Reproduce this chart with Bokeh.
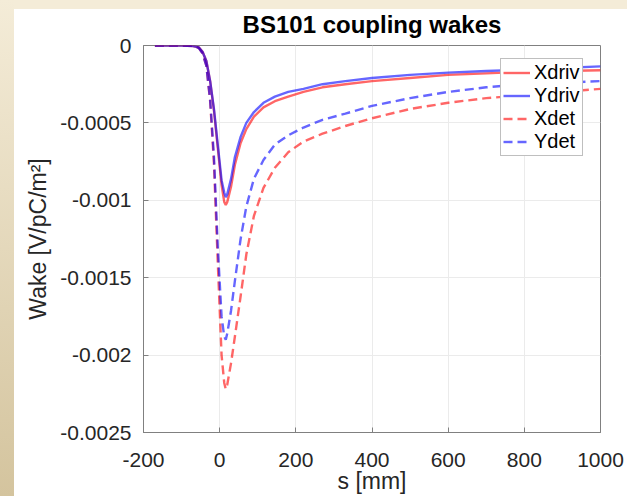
from bokeh.plotting import figure
from bokeh.models import Legend, LegendItem, FixedTicker, Range1d
from bokeh.layouts import column
from bokeh.embed import file_html
from bokeh.resources import INLINE

s = [-170, -100, -70, -55, -45, -35, -25, -15, -5, 5, 12, 16, 20, 30, 40, 55, 70, 90,
     115, 145, 180, 220, 270, 330, 400, 500, 600, 700, 800, 900, 1000]

xdriv = [0, 0, -0.000003, -0.000012, -0.00004, -0.0001, -0.00023, -0.00042, -0.00066,
         -0.0009, -0.00101, -0.00103, -0.00101, -0.00091, -0.00077, -0.00063, -0.00054,
         -0.00046, -0.0004, -0.00036, -0.00033, -0.0003, -0.00027, -0.00025, -0.00023,
         -0.00021, -0.00019, -0.00018, -0.00017, -0.000165, -0.00016]
ydriv = [0, 0, -0.000003, -0.000012, -0.00004, -0.0001, -0.00023, -0.00041, -0.00064,
         -0.00087, -0.00095, -0.00098, -0.00096, -0.00086, -0.00072, -0.00059, -0.0005,
         -0.00043, -0.00037, -0.00033, -0.0003, -0.00028, -0.00025, -0.00023, -0.00021,
         -0.00019, -0.000175, -0.000165, -0.000155, -0.000145, -0.000135]
xdet = [0, 0, -0.000003, -0.000015, -0.00005, -0.00013, -0.00036, -0.00076, -0.0014,
        -0.002, -0.00218, -0.00222, -0.00219, -0.00205, -0.00188, -0.00162, -0.00135,
        -0.0011, -0.00092, -0.00079, -0.00069, -0.00062, -0.00057, -0.00052, -0.00047,
        -0.00041, -0.00037, -0.00034, -0.00032, -0.0003, -0.00028]
ydet = [0, 0, -0.000003, -0.000015, -0.00005, -0.00013, -0.00035, -0.00072, -0.0013,
        -0.00175, -0.00188, -0.0019, -0.00186, -0.00171, -0.00152, -0.00125, -0.00104,
        -0.00086, -0.00074, -0.00064, -0.00058, -0.00053, -0.00048, -0.00044, -0.00039,
        -0.00034, -0.0003, -0.00027, -0.00025, -0.00024, -0.00023]

x_ticks = [-200, 0, 200, 400, 600, 800, 1000]
x_tick_labels = ["-200", "0", "200", "400", "600", "800", "1000"]
y_ticks = [0, -0.0005, -0.001, -0.0015, -0.002, -0.0025]
y_tick_labels = ["0", "-0.0005", "-0.001", "-0.0015", "-0.002", "-0.0025"]
title_text = "BS101 coupling wakes"

FONT = "Liberation Sans"

p = figure(width=613, height=496, output_backend="svg", toolbar_location=None,
           x_range=Range1d(-200, 1000), y_range=Range1d(-0.0025, 0),
           title=title_text)
p.min_border_left = 129
p.min_border_right = 27
p.min_border_top = 0
p.min_border_bottom = 63
p.background_fill_color = "white"
p.border_fill_alpha = 0
p.styles = {"background": "linear-gradient(to bottom, #f4ecd8 0px, #f4ecd8 9px, #ffffff 9px)"}
p.outline_line_color = "#808080"

p.title.align = "center"
p.title.text_font = FONT
p.title.text_font_size = "24px"
p.title.text_font_style = "bold"
p.title.text_color = "black"
p.title.standoff = 16
p.title.offset = 0

p.xaxis.ticker = FixedTicker(ticks=x_ticks)
p.yaxis.ticker = FixedTicker(ticks=y_ticks)
p.xaxis.major_label_overrides = {t: l for t, l in zip(x_ticks, x_tick_labels)}
p.yaxis.major_label_overrides = {t: l for t, l in zip(y_ticks, y_tick_labels)}
p.xaxis.axis_label = "s [mm]"
p.yaxis.axis_label = "Wake [V/pC/m²]"
for ax in (p.xaxis, p.yaxis):
    ax.axis_line_color = "#808080"
    ax.major_tick_line_color = "#808080"
    ax.major_tick_in = 5
    ax.major_tick_out = 0
    ax.minor_tick_line_color = None
    ax.major_label_text_font = FONT
    ax.major_label_text_font_size = "21px"
    ax.major_label_text_color = "#262626"
    ax.axis_label_text_font = FONT
    ax.axis_label_text_font_size = "23px"
    ax.axis_label_text_font_style = "normal"
    ax.axis_label_text_color = "#262626"
p.xaxis.major_label_standoff = 20
p.xaxis.axis_label_standoff = -2
p.yaxis.major_label_standoff = 12
p.yaxis.axis_label_standoff = 6

p.xgrid.ticker = FixedTicker(ticks=x_ticks)
p.ygrid.ticker = FixedTicker(ticks=y_ticks)
p.grid.grid_line_color = "#ebebeb"

r1 = p.line(s, xdriv, line_color="#ff0000", line_alpha=0.6, line_width=2.4)
r2 = p.line(s, ydriv, line_color="#0000ff", line_alpha=0.6, line_width=2.4)
r3 = p.line(s, xdet, line_color="#ff0000", line_alpha=0.6, line_width=2.4, line_dash="9 5")
r4 = p.line(s, ydet, line_color="#0000ff", line_alpha=0.6, line_width=2.4, line_dash="9 5")

legend = Legend(items=[LegendItem(label="Xdriv", renderers=[r1]),
                       LegendItem(label="Ydriv", renderers=[r2]),
                       LegendItem(label="Xdet", renderers=[r3]),
                       LegendItem(label="Ydet", renderers=[r4])],
                location=(357, 276))
legend.label_text_font = FONT
legend.label_text_font_size = "20px"
legend.label_text_color = "black"
legend.border_line_color = "#808080"
legend.background_fill_color = "white"
legend.background_fill_alpha = 1
legend.glyph_width = 27
legend.glyph_height = 23
legend.label_standoff = 4
legend.spacing = 0
legend.padding = 2
legend.margin = 0
legend.label_height = 23
p.add_layout(legend)

page = column(p, styles={"padding": "0px 0px 0px 14px",
                         "background": "linear-gradient(#f4ecd8, #d4c49e)"})

open("out.html", "w").write(file_html(page, INLINE))
